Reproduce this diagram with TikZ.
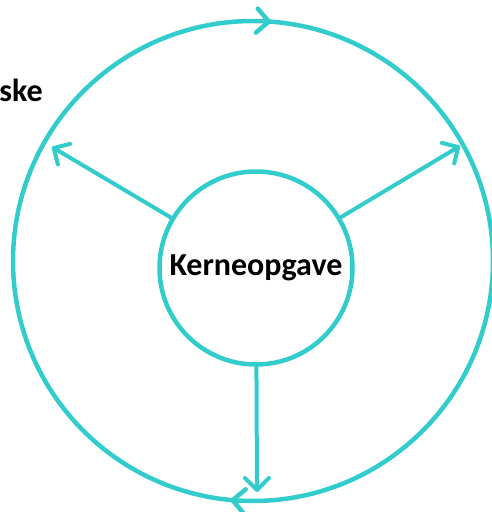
\documentclass[tikz,border=0pt]{standalone}
\usepackage{fontspec}
\setmainfont{Carlito}
\usetikzlibrary{arrows.meta,decorations.markings}
\definecolor{teal1}{RGB}{51,204,204}
\tikzset{
  ring/.style={draw=teal1, line width=4.5pt},
  arr/.style={draw=teal1, line width=4pt, line cap=round,
    -{Straight Barb[length=12pt,width=24pt,line cap=round,line join=round]}},
  lbl/.style={font=\bfseries\fontsize{32}{36}\selectfont, text=black}
}
\begin{document}
\begin{tikzpicture}[x=1pt,y=1pt]
\useasboundingbox (0,0) rectangle (491,512);
\coordinate (bigc) at (253,251);
% outer ring, drawn clockwise with two mid-arc arrowheads
\draw[ring, postaction={decorate}, decoration={markings,
   mark=at position 0.262 with {\arrow{Straight Barb[length=12pt,width=24pt,line cap=round,line join=round]}},
   mark=at position 0.765 with {\arrow{Straight Barb[length=12pt,width=24pt,line cap=round,line join=round]}}}]
  (bigc) ++(180:240) arc[start angle=180, end angle=-180, radius=240];
\node[ring, circle, minimum size=193pt, inner sep=0pt, fill=white, lbl] (core) at (256,244) {Kerneopgave};
\coordinate (tl) at (52,365);
\coordinate (tr) at (460,366);
\coordinate (tb) at (257,20);
\draw[arr] (core) -- (tl);
\draw[arr] (core) -- (tr);
\draw[arr] (core) -- (tb);
\node[anchor=base east, inner sep=0pt, lbl] (ske) at (43,410) {ske};
\end{tikzpicture}
\end{document}
